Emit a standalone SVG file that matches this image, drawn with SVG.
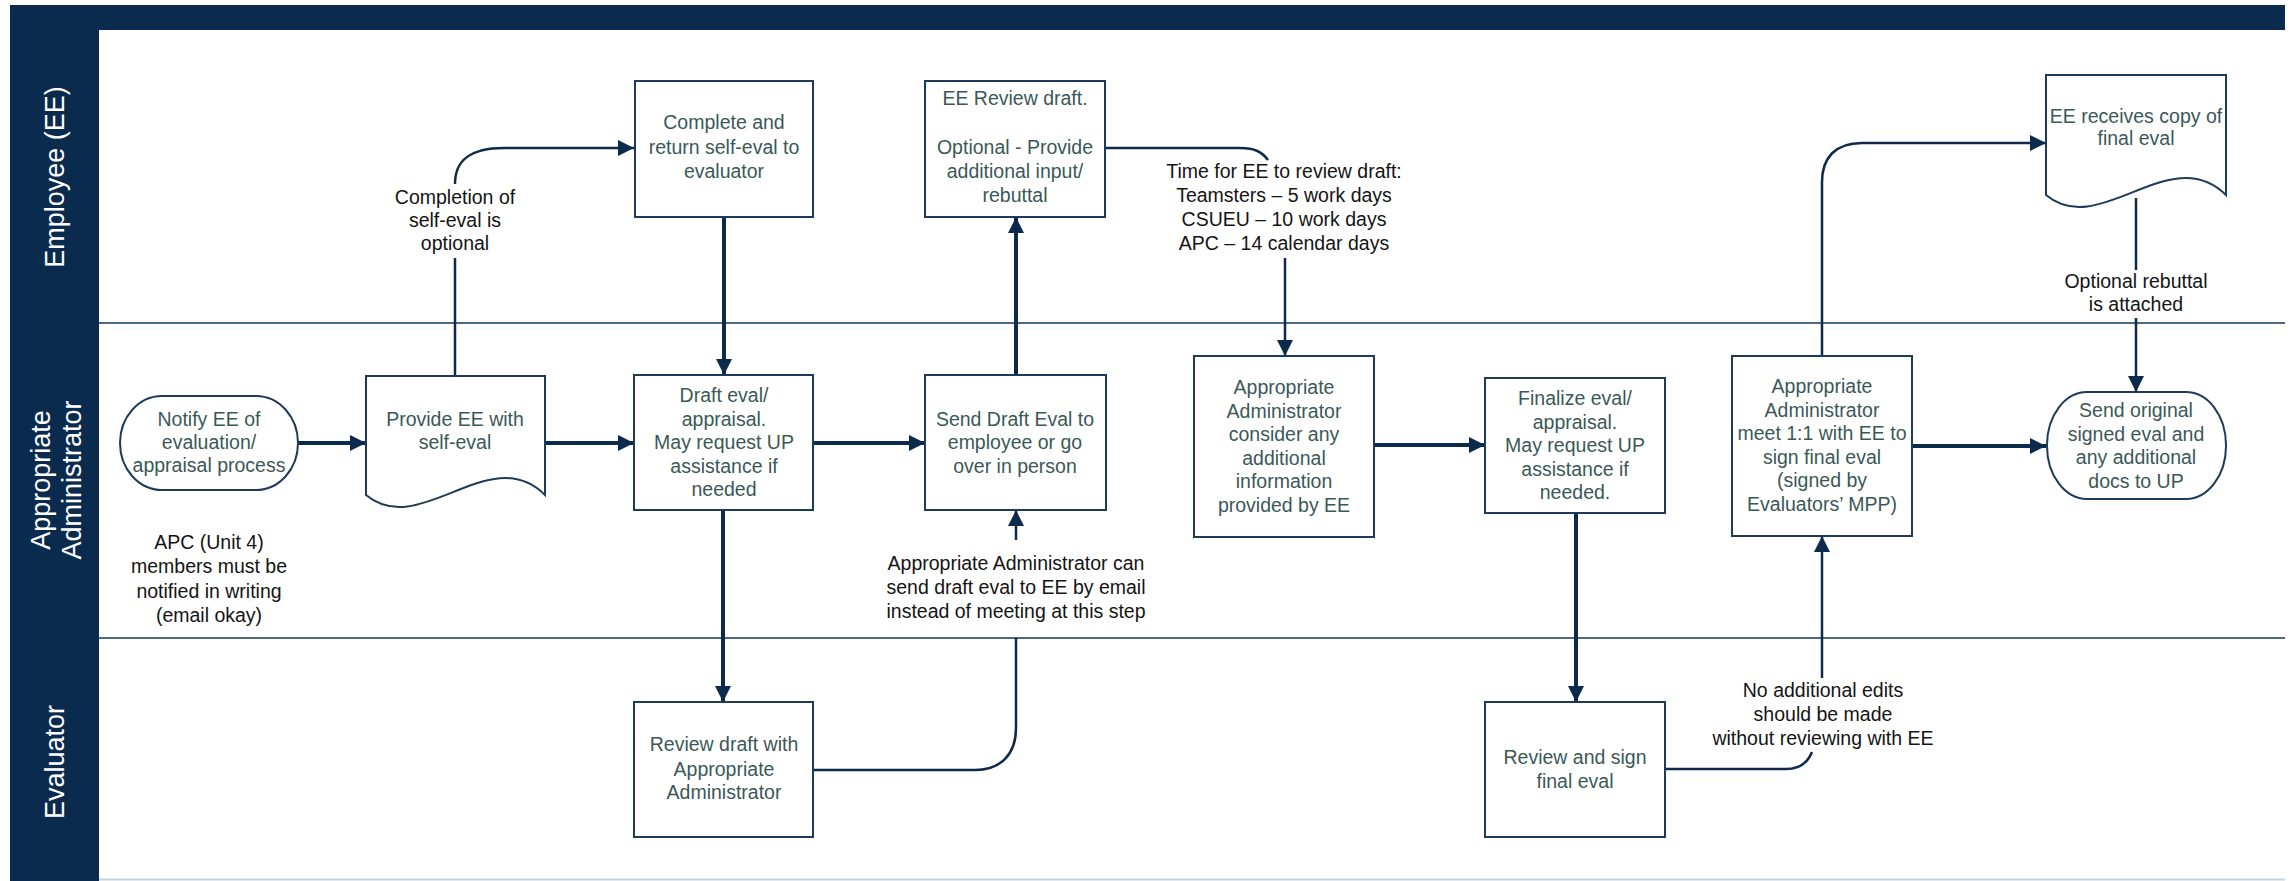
<svg xmlns="http://www.w3.org/2000/svg" width="2290" height="881" viewBox="0 0 2290 881">
<style>
.band{fill:#0a2b4e}
.lanetxt{fill:#ffffff;font-family:"Liberation Sans",Arial,sans-serif;font-size:27px;text-anchor:middle}
.div{stroke:#4f6a80;stroke-width:2;fill:none}
.box{fill:#ffffff;stroke:#1f3b5c;stroke-width:2}
.nt{fill:#3b5858;font-family:"Liberation Sans",Arial,sans-serif;font-size:19.5px;text-anchor:middle}
.at{fill:#141414;font-family:"Liberation Sans",Arial,sans-serif;font-size:19.5px;text-anchor:middle}
.c{stroke:#0c2a4b;stroke-width:4;fill:none}
.c2{stroke:#0c2a4b;stroke-width:2.5;fill:none}
</style>
<defs>
<marker id="ah" viewBox="0 0 10 10" refX="10" refY="5" markerWidth="16" markerHeight="16" markerUnits="userSpaceOnUse" orient="auto">
<path d="M0,0 L10,5 L0,10 z" fill="#0c2a4b"/>
</marker>
</defs>
<rect width="2290" height="881" fill="#ffffff"/>
<g id="frame">
<rect class="band" x="10" y="5" width="2275" height="25"/>
<rect class="band" x="10" y="5" width="89" height="876"/>
<line class="div" x1="99" y1="323" x2="2285" y2="323"/>
<line class="div" x1="99" y1="638" x2="2285" y2="638"/>
<line x1="99" y1="879.5" x2="2285" y2="879.5" stroke="#c8d2da" stroke-width="2"/>
</g>
<g id="lane-employee"><text class="lanetxt" transform="translate(64,177) rotate(-90)">Employee (EE)</text></g>
<g id="lane-admin"><text class="lanetxt" transform="translate(50,480) rotate(-90)">Appropriate</text><text class="lanetxt" transform="translate(81,480) rotate(-90)">Administrator</text></g>
<g id="lane-evaluator"><text class="lanetxt" transform="translate(64,762) rotate(-90)">Evaluator</text></g>

<g id="connectors">
<path class="c" d="M298,443 H366" marker-end="url(#ah)"/>
<path class="c" d="M545,443 H634" marker-end="url(#ah)"/>
<path class="c" d="M813,443 H925" marker-end="url(#ah)"/>
<path class="c" d="M1374,445 H1485" marker-end="url(#ah)"/>
<path class="c" d="M1912,446 H2046" marker-end="url(#ah)"/>
<path class="c" d="M724,217 V375" marker-end="url(#ah)"/>
<path class="c" d="M1016,375 V217" marker-end="url(#ah)"/>
<path class="c" d="M723,510 V702" marker-end="url(#ah)"/>
<path class="c" d="M1576,513 V702" marker-end="url(#ah)"/>
<path class="c2" d="M455,376 V258"/>
<path class="c2" d="M455,184 C455,160 470,148 504,148 H634" marker-end="url(#ah)"/>
<path class="c2" d="M1105,148 H1240 C1255,148 1262,152 1268,160"/>
<path class="c2" d="M1285,258 V356" marker-end="url(#ah)"/>
<path class="c2" d="M813,770 H975 C1000,770 1016,755 1016,728 V638"/>
<path class="c2" d="M1016,540 V510" marker-end="url(#ah)"/>
<path class="c2" d="M1665,769 H1786 C1800,769 1808,762 1812,752"/>
<path class="c2" d="M1822,678 V536" marker-end="url(#ah)"/>
<path class="c2" d="M1822,356 V182 C1822,158 1835,143 1862,143 H2046" marker-end="url(#ah)"/>
<path class="c2" d="M2136,198 V270"/>
<path class="c2" d="M2136,318 V392" marker-end="url(#ah)"/>
</g>

<g id="notify">
<rect class="box" x="120" y="396" width="178" height="94" rx="42" ry="47"/>
<text class="nt" x="209" y="426">Notify EE of</text>
<text class="nt" x="209" y="449">evaluation/</text>
<text class="nt" x="209" y="472">appraisal process</text>
</g>
<g id="provide">
<path class="box" d="M366,376 H545 V495 C490,440 420,540 366,495 Z"/>
<text class="nt" x="455" y="426">Provide EE with</text>
<text class="nt" x="455" y="449">self-eval</text>
</g>
<g id="complete">
<rect class="box" x="635" y="81" width="178" height="136"/>
<text class="nt" x="724" y="129">Complete and</text>
<text class="nt" x="724" y="154">return self-eval to</text>
<text class="nt" x="724" y="178">evaluator</text>
</g>
<g id="draft">
<rect class="box" x="634" y="375" width="179" height="135"/>
<text class="nt" x="724" y="402">Draft eval/</text>
<text class="nt" x="724" y="425.5">appraisal.</text>
<text class="nt" x="724" y="449">May request UP</text>
<text class="nt" x="724" y="472.5">assistance if</text>
<text class="nt" x="724" y="496">needed</text>
</g>
<g id="review-draft">
<rect class="box" x="634" y="702" width="179" height="135"/>
<text class="nt" x="724" y="751">Review draft with</text>
<text class="nt" x="724" y="776">Appropriate</text>
<text class="nt" x="724" y="799">Administrator</text>
</g>
<g id="ee-review">
<rect class="box" x="925" y="81" width="180" height="136"/>
<text class="nt" x="1015" y="105">EE Review draft.</text>
<text class="nt" x="1015" y="154">Optional - Provide</text>
<text class="nt" x="1015" y="178">additional input/</text>
<text class="nt" x="1015" y="202">rebuttal</text>
</g>
<g id="send-draft">
<rect class="box" x="925" y="375" width="181" height="135"/>
<text class="nt" x="1015" y="426">Send Draft Eval to</text>
<text class="nt" x="1015" y="449">employee or go</text>
<text class="nt" x="1015" y="473">over in person</text>
</g>
<g id="consider">
<rect class="box" x="1194" y="356" width="180" height="181"/>
<text class="nt" x="1284" y="394">Appropriate</text>
<text class="nt" x="1284" y="417.5">Administrator</text>
<text class="nt" x="1284" y="441">consider any</text>
<text class="nt" x="1284" y="464.5">additional</text>
<text class="nt" x="1284" y="488">information</text>
<text class="nt" x="1284" y="511.5">provided by EE</text>
</g>
<g id="finalize">
<rect class="box" x="1485" y="378" width="180" height="135"/>
<text class="nt" x="1575" y="405">Finalize eval/</text>
<text class="nt" x="1575" y="428.5">appraisal.</text>
<text class="nt" x="1575" y="452">May request UP</text>
<text class="nt" x="1575" y="475.5">assistance if</text>
<text class="nt" x="1575" y="499">needed.</text>
</g>
<g id="review-sign">
<rect class="box" x="1485" y="702" width="180" height="135"/>
<text class="nt" x="1575" y="764">Review and sign</text>
<text class="nt" x="1575" y="788">final eval</text>
</g>
<g id="meet">
<rect class="box" x="1732" y="356" width="180" height="180"/>
<text class="nt" x="1822" y="393">Appropriate</text>
<text class="nt" x="1822" y="416.5">Administrator</text>
<text class="nt" x="1822" y="440">meet 1:1 with EE to</text>
<text class="nt" x="1822" y="463.5">sign final eval</text>
<text class="nt" x="1822" y="487">(signed by</text>
<text class="nt" x="1822" y="510.5">Evaluators’ MPP)</text>
</g>
<g id="ee-receives">
<path class="box" d="M2046,75 H2226 V195 C2170,140 2100,240 2046,195 Z"/>
<text class="nt" x="2136" y="123">EE receives copy of</text>
<text class="nt" x="2136" y="145">final eval</text>
</g>
<g id="send-original">
<rect class="box" x="2047" y="392" width="179" height="107" rx="40" ry="53"/>
<text class="nt" x="2136" y="417">Send original</text>
<text class="nt" x="2136" y="440.5">signed eval and</text>
<text class="nt" x="2136" y="464">any additional</text>
<text class="nt" x="2136" y="487.5">docs to UP</text>
</g>

<g id="labels">
<g id="lbl-completion">
<text class="at" x="455" y="204">Completion of</text>
<text class="at" x="455" y="227">self-eval is</text>
<text class="at" x="455" y="250">optional</text>
</g>
<g id="lbl-time">
<text class="at" x="1284" y="178">Time for EE to review draft:</text>
<text class="at" x="1284" y="202">Teamsters – 5 work days</text>
<text class="at" x="1284" y="226">CSUEU – 10 work days</text>
<text class="at" x="1284" y="250">APC – 14 calendar days</text>
</g>
<g id="lbl-apc">
<text class="at" x="209" y="549">APC (Unit 4)</text>
<text class="at" x="209" y="573">members must be</text>
<text class="at" x="209" y="598">notified in writing</text>
<text class="at" x="209" y="622">(email okay)</text>
</g>
<g id="lbl-email">
<text class="at" x="1016" y="570">Appropriate Administrator can</text>
<text class="at" x="1016" y="594">send draft eval to EE by email</text>
<text class="at" x="1016" y="618">instead of meeting at this step</text>
</g>
<g id="lbl-noedits">
<text class="at" x="1823" y="697">No additional edits</text>
<text class="at" x="1823" y="721">should be made</text>
<text class="at" x="1823" y="745">without reviewing with EE</text>
</g>
<g id="lbl-rebuttal">
<text class="at" x="2136" y="288">Optional rebuttal</text>
<text class="at" x="2136" y="311">is attached</text>
</g>
</g>
</svg>
